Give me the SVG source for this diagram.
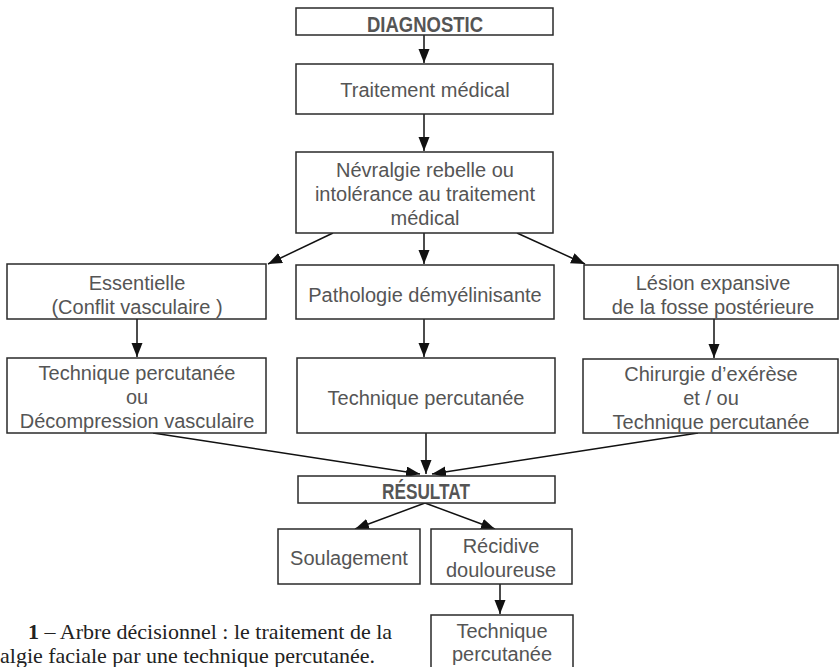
<svg xmlns="http://www.w3.org/2000/svg" width="840" height="667" viewBox="0 0 840 667">
  <style>
    .box { fill: #ffffff; stroke: #2a2a2a; stroke-width: 1.5; }
    .txt { font-family: "Liberation Sans", Arial, sans-serif; font-size: 20px; fill: #555555; text-anchor: middle; }
    .bold { font-weight: bold; font-size: 22px; }
    .link { fill: none; stroke: #111111; stroke-width: 1.5; marker-end: url(#arrow); }
    .cap { font-family: "Liberation Serif", "Times New Roman", serif; font-size: 22px; fill: #222222; }
  </style>
  <defs>
    <marker id="arrow" markerUnits="userSpaceOnUse" markerWidth="15" markerHeight="12" refX="14" refY="5.5" orient="auto">
      <path d="M0,0 L14,5.5 L0,11 Z" fill="#111111"/>
    </marker>
  </defs>
  <rect width="840" height="667" fill="#ffffff"/>

  <!-- connectors -->
  <g id="connectors">
    <line class="link" x1="424" y1="35" x2="424" y2="63"/>
    <line class="link" x1="424" y1="114" x2="424" y2="151"/>
    <line class="link" x1="333" y1="233" x2="268" y2="264"/>
    <line class="link" x1="424" y1="233" x2="424" y2="264"/>
    <line class="link" x1="517" y1="233" x2="585" y2="264"/>
    <line class="link" x1="137" y1="319" x2="137" y2="357"/>
    <line class="link" x1="424" y1="319" x2="424" y2="357"/>
    <line class="link" x1="714" y1="319" x2="714" y2="358"/>
    <line class="link" x1="153" y1="433" x2="420" y2="474"/>
    <line class="link" x1="426" y1="433" x2="426" y2="474"/>
    <line class="link" x1="698" y1="433" x2="432" y2="474"/>
    <line class="link" x1="425" y1="503" x2="355" y2="529"/>
    <line class="link" x1="425" y1="503" x2="495" y2="529"/>
    <line class="link" x1="500" y1="584" x2="500" y2="614"/>
  </g>

  <g id="diagnostic">
    <rect class="box" x="296" y="8" width="257" height="27"/>
    <text class="txt bold" x="425" y="32" textLength="116" lengthAdjust="spacingAndGlyphs">DIAGNOSTIC</text>
  </g>

  <g id="traitement-medical">
    <rect class="box" x="296" y="64" width="257" height="50"/>
    <text class="txt" x="425" y="97">Traitement médical</text>
  </g>

  <g id="nevralgie-rebelle">
    <rect class="box" x="296" y="152" width="257" height="81"/>
    <text class="txt" x="425" y="177">Névralgie rebelle ou</text>
    <text class="txt" x="425" y="201">intolérance au traitement</text>
    <text class="txt" x="425" y="225">médical</text>
  </g>

  <g id="essentielle">
    <rect class="box" x="7" y="264" width="259" height="55"/>
    <text class="txt" x="137" y="290">Essentielle</text>
    <text class="txt" x="137" y="314">(Conflit vasculaire )</text>
  </g>

  <g id="pathologie-demyelinisante">
    <rect class="box" x="296" y="265" width="258" height="54"/>
    <text class="txt" x="425" y="302">Pathologie démyélinisante</text>
  </g>

  <g id="lesion-expansive">
    <rect class="box" x="584" y="265" width="254" height="54"/>
    <text class="txt" x="713" y="290">Lésion expansive</text>
    <text class="txt" x="713" y="314">de la fosse postérieure</text>
  </g>

  <g id="technique-ou-decompression">
    <rect class="box" x="7" y="358" width="259" height="75"/>
    <text class="txt" x="137" y="380">Technique percutanée</text>
    <text class="txt" x="137" y="404">ou</text>
    <text class="txt" x="137" y="428">Décompression vasculaire</text>
  </g>

  <g id="technique-percutanee-centre">
    <rect class="box" x="297" y="358" width="258" height="75"/>
    <text class="txt" x="426" y="405">Technique percutanée</text>
  </g>

  <g id="chirurgie-exerese">
    <rect class="box" x="583" y="359" width="255" height="74"/>
    <text class="txt" x="711" y="381">Chirurgie d’exérèse</text>
    <text class="txt" x="711" y="405">et / ou</text>
    <text class="txt" x="711" y="429">Technique percutanée</text>
  </g>

  <g id="resultat">
    <rect class="box" x="298" y="476" width="257" height="27"/>
    <text class="txt bold" x="426" y="499" textLength="88" lengthAdjust="spacingAndGlyphs">RÉSULTAT</text>
  </g>

  <g id="soulagement">
    <rect class="box" x="278" y="529" width="142" height="55"/>
    <text class="txt" x="349" y="565">Soulagement</text>
  </g>

  <g id="recidive-douloureuse">
    <rect class="box" x="431" y="529" width="141" height="55"/>
    <text class="txt" x="501" y="553">Récidive</text>
    <text class="txt" x="501" y="577">douloureuse</text>
  </g>

  <g id="technique-percutanee-recidive">
    <rect class="box" x="431" y="615" width="142" height="60"/>
    <text class="txt" x="502" y="638">Technique</text>
    <text class="txt" x="502" y="661">percutanée</text>
  </g>

  <!-- figure caption -->
  <text class="cap" x="28" y="639"><tspan font-weight="bold">1</tspan> – Arbre décisionnel : le traitement de la</text>
  <text class="cap" x="0" y="663">algie faciale par une technique percutanée.</text>
</svg>
